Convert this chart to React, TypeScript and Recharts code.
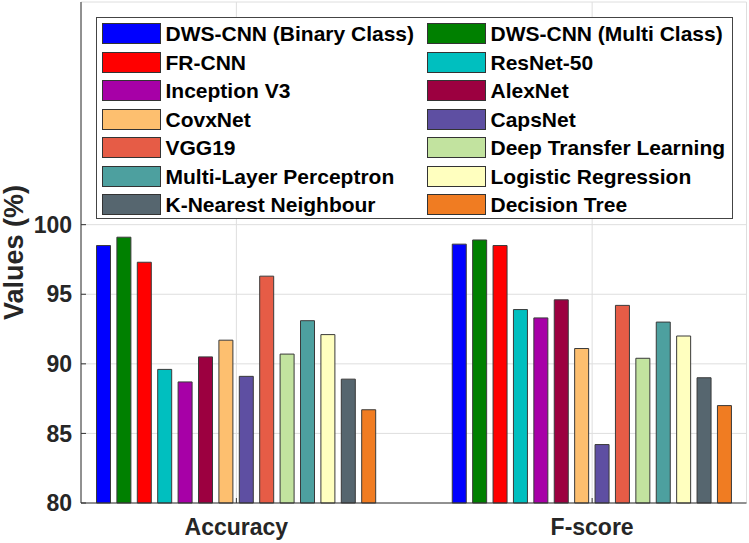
import React from 'react';
import { BarChart, Bar, XAxis, YAxis, CartesianGrid, Legend } from 'recharts';

const metrics = ['Accuracy', 'F-score'];
const models = [
  'DWS-CNN (Binary Class)',
  'DWS-CNN (Multi Class)',
  'FR-CNN',
  'ResNet-50',
  'Inception V3',
  'AlexNet',
  'CovxNet',
  'CapsNet',
  'VGG19',
  'Deep Transfer Learning',
  'Multi-Layer Perceptron',
  'Logistic Regression',
  'K-Nearest Neighbour',
  'Decision Tree',
];
const colors = [
  '#0000ff', '#008000', '#ff0000', '#00bfbf', '#a700a7', '#9c0040', '#fdbf6f',
  '#5e4fa2', '#e65c46', '#c2e39f', '#4da09f', '#ffffbf', '#56666f', '#f07c22',
];
const accuracy = [98.5, 99.1, 97.3, 89.6, 88.7, 90.5, 91.7, 89.1, 96.3, 90.7, 93.1, 92.1, 88.9, 86.7];
const fscore = [98.6, 98.9, 98.5, 93.9, 93.3, 94.6, 91.1, 84.2, 94.2, 90.4, 93.0, 92.0, 89.0, 87.0];
const yTicks = [80, 85, 90, 95, 100];

// one row per metric, one key per model
const rows = metrics.map((name, i) => {
  const values = i === 0 ? accuracy : fscore;
  const row: { [key: string]: string | number } = { name };
  models.forEach((_, j) => {
    row['m' + j] = values[j];
  });
  return row;
});

const axisColor = '#333';
const textColor = '#262626';

const renderLegend = () => (
  <div
    style={{
      position: 'relative',
      width: 637,
      height: 202,
      border: '1px solid #444',
      background: '#fff',
      boxSizing: 'border-box',
    }}
  >
    {models.map((m, j) => {
      const col = j % 2;
      const row = Math.floor(j / 2);
      return (
        <div
          key={m}
          style={{
            position: 'absolute',
            left: col ? 330 : 5,
            top: 5 + row * 28.5,
            height: 21,
            display: 'flex',
            alignItems: 'center',
          }}
        >
          <span
            style={{
              display: 'inline-block',
              width: 59,
              height: 21,
              background: colors[j],
              border: '1px solid #333',
              boxSizing: 'border-box',
            }}
          />
          <span
            style={{
              marginLeft: 5,
              fontSize: 21,
              fontWeight: 700,
              lineHeight: '21px',
              color: '#000',
              whiteSpace: 'nowrap',
            }}
          >
            {m}
          </span>
        </div>
      );
    })}
  </div>
);

export default function App() {
  return (
    <div
      style={{
        position: 'absolute',
        left: 0,
        top: 0,
        width: 749,
        height: 543,
        background: '#fff',
        fontFamily: '"Liberation Sans", Arial, sans-serif',
      }}
    >
      <BarChart
        width={749}
        height={543}
        data={rows}
        margin={{ top: 2, right: 2.5, bottom: 0, left: 0 }}
        barSize={14}
        barGap={6.4}
      >
        <CartesianGrid stroke="#dedede" />
        <XAxis
          dataKey="name"
          height={40}
          padding={{ left: -22.5, right: -23.5 }}
          tickSize={-5}
          tickMargin={21}
          tick={{ fill: textColor, fontSize: 23, fontWeight: 700 }}
          axisLine={{ stroke: axisColor }}
          tickLine={{ stroke: axisColor }}
        />
        <XAxis
          xAxisId="top"
          orientation="top"
          dataKey="name"
          height={0}
          padding={{ left: -22.5, right: -23.5 }}
          tick={false}
          tickSize={-5}
          axisLine={{ stroke: '#555' }}
          tickLine={{ stroke: axisColor }}
        />
        <YAxis
          type="number"
          domain={[80, 116]}
          ticks={yTicks}
          width={81}
          tickSize={-5}
          tickMargin={14}
          tick={{ fill: textColor, fontSize: 23, fontWeight: 700 }}
          axisLine={{ stroke: axisColor }}
          tickLine={{ stroke: axisColor }}
          label={{
            value: 'Values (%)',
            angle: -90,
            position: 'center',
            dx: -27,
            style: { fill: textColor, fontSize: 27, fontWeight: 700 },
          }}
        />
        <YAxis
          yAxisId="right"
          orientation="right"
          type="number"
          domain={[80, 116]}
          ticks={yTicks}
          width={0}
          tick={false}
          tickSize={-5}
          axisLine={{ stroke: '#555' }}
          tickLine={{ stroke: axisColor }}
        />
        <Legend
          layout="horizontal"
          verticalAlign="middle"
          align="center"
          content={renderLegend}
          wrapperStyle={{ left: 95.5, top: 17, width: 637, height: 202 }}
        />
        {models.map((m, j) => (
          <Bar
            key={m}
            dataKey={'m' + j}
            name={m}
            fill={colors[j]}
            stroke="#3a3a3a"
            strokeWidth={1}
            isAnimationActive={false}
          />
        ))}
      </BarChart>
    </div>
  );
}
